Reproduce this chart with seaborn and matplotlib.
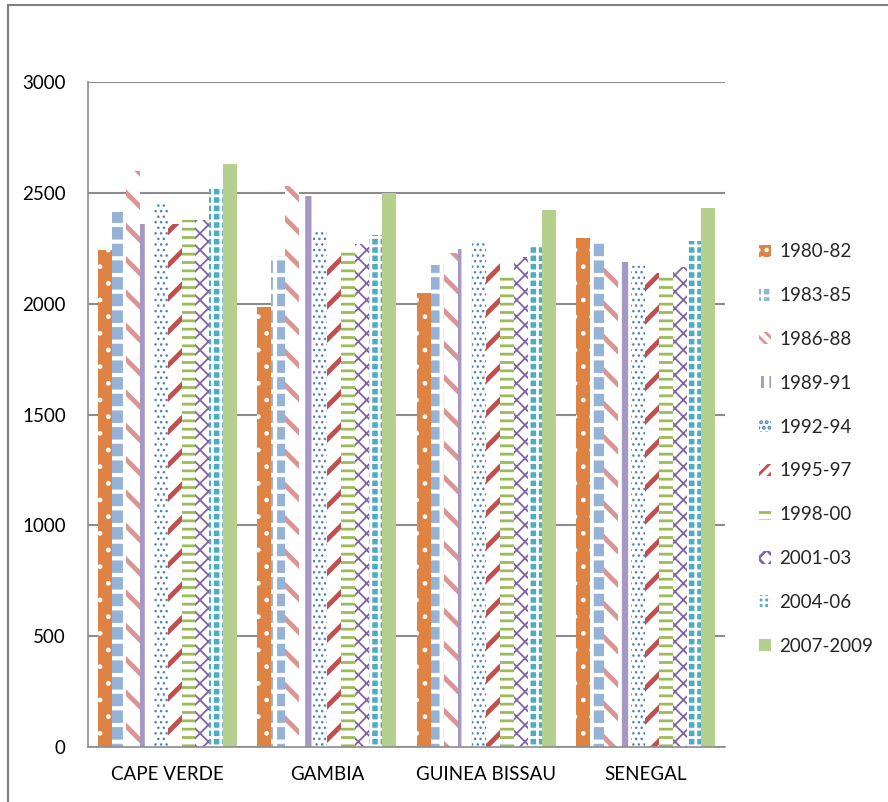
import matplotlib
matplotlib.use("Agg")
import matplotlib.pyplot as plt
from matplotlib.lines import Line2D
from matplotlib.patches import Patch
import seaborn as sns
import pandas as pd

# Dietary energy supply (kcal/person/day) by country and period
countries = ["CAPE VERDE", "GAMBIA", "GUINEA BISSAU", "SENEGAL"]
periods = ["1980-82", "1983-85", "1986-88", "1989-91", "1992-94",
           "1995-97", "1998-00", "2001-03", "2004-06", "2007-2009"]

v_1980_82 = [2240, 1985, 2048, 2296]
v_1983_85 = [2413, 2215, 2174, 2282]
v_1986_88 = [2598, 2530, 2228, 2160]
v_1989_91 = [2359, 2485, 2246, 2188]
v_1992_94 = [2460, 2336, 2287, 2170]
v_1995_97 = [2360, 2242, 2210, 2138]
v_1998_00 = [2377, 2237, 2133, 2133]
v_2001_03 = [2377, 2269, 2210, 2165]
v_2004_06 = [2527, 2309, 2264, 2282]
v_2007_09 = [2630, 2499, 2422, 2431]

series = [v_1980_82, v_1983_85, v_1986_88, v_1989_91, v_1992_94,
          v_1995_97, v_1998_00, v_2001_03, v_2004_06, v_2007_09]

yticks = [0, 500, 1000, 1500, 2000, 2500, 3000]

rows = []
for per, vals in zip(periods, series):
    for c, v in zip(countries, vals):
        rows.append({"country": c, "period": per, "kcal": v})
df = pd.DataFrame(rows)

# (face colour, hatch colour, bar hatch, legend hatch, hatch line width)
styles = [
    ("#DE8344", "white", ".", "..", 1.0),
    ("#95B3D7", "white", "+", "++", 3.0),
    ("white", "#D99694", "\\", "\\\\\\", 3.5),
    ("white", "#A598C4", "|", "||", 4.5),
    ("white", "#4F81BD", "...", "...", 1.0),
    ("white", "#C0504D", "/", "///", 3.5),
    ("white", "#9BBB59", "--", "--", 2.0),
    ("white", "#8064A2", "xx", "xx", 1.3),
    ("#4BACC6", "white", "++", "+++", 2.0),
    ("#B5CF8E", "#B5CF8E", "", "", 1.0),
]

sns.set_theme(style="white")
plt.rcParams["font.family"] = ["Lato", "DejaVu Sans"]
plt.rcParams["hatch.linewidth"] = 2.0

fig = plt.figure(figsize=(8.88, 8.02), dpi=100)
ax = fig.add_axes([88 / 888, 1 - 747 / 802, (725 - 88) / 888, (747 - 82) / 802])

sns.barplot(data=df, x="country", y="kcal", hue="period", order=countries,
            hue_order=periods, width=0.873, dodge=True, ax=ax,
            palette=[s[0] for s in styles], saturation=1, legend=False,
            errorbar=None)


def style_patch(p, face, hcol, hatch, hlw):
    p.set_facecolor(face)
    p.set_edgecolor(hcol)
    p.set_hatch(hatch if hatch else None)
    p.set_linewidth(0)
    if hasattr(p, "set_hatch_linewidth"):
        p.set_hatch_linewidth(hlw)


for cont, (face, hcol, hatch, _, hlw) in zip(ax.containers, styles):
    for p in cont.patches:
        style_patch(p, face, hcol, hatch, hlw)

ax.set_ylim(0, 3000)
ax.set_xlim(-0.5, 3.5)
ax.set_yticks(yticks)
ax.set_yticklabels([str(t) for t in yticks])
ax.set_xlabel("")
ax.set_ylabel("")
ax.tick_params(axis="both", length=0, labelsize=13.5, colors="black")
ax.tick_params(axis="y", pad=16)
ax.tick_params(axis="x", pad=14)
ax.yaxis.grid(True, color="#8C8C8C", linewidth=1.5)
ax.set_axisbelow(True)
for side in ["top", "right"]:
    ax.spines[side].set_visible(False)
for side in ["left", "bottom"]:
    ax.spines[side].set_color("#8C8C8C")
    ax.spines[side].set_linewidth(1.2)

handles = []
for face, hcol, _, lhatch, hlw in styles:
    h = Patch()
    style_patch(h, face, hcol, lhatch, min(hlw, 2.0))
    handles.append(h)

leg = fig.legend(handles, periods, loc="center left",
                 bbox_to_anchor=(759 / 888, 1 - 449 / 802),
                 frameon=False, fontsize=13.5, handlelength=0.62,
                 handleheight=0.62, handletextpad=0.45, labelspacing=1.43,
                 borderpad=0, borderaxespad=0)

# outer chart border (top and left edges)
fig.add_artist(Line2D([8 / 888, 1], [1 - 5 / 802, 1 - 5 / 802],
                      transform=fig.transFigure, color="#7F7F7F", linewidth=1.5))
fig.add_artist(Line2D([8 / 888, 8 / 888], [0, 1 - 5 / 802],
                      transform=fig.transFigure, color="#7F7F7F", linewidth=1.5))

fig.savefig("out.png", dpi=100, facecolor="white")
